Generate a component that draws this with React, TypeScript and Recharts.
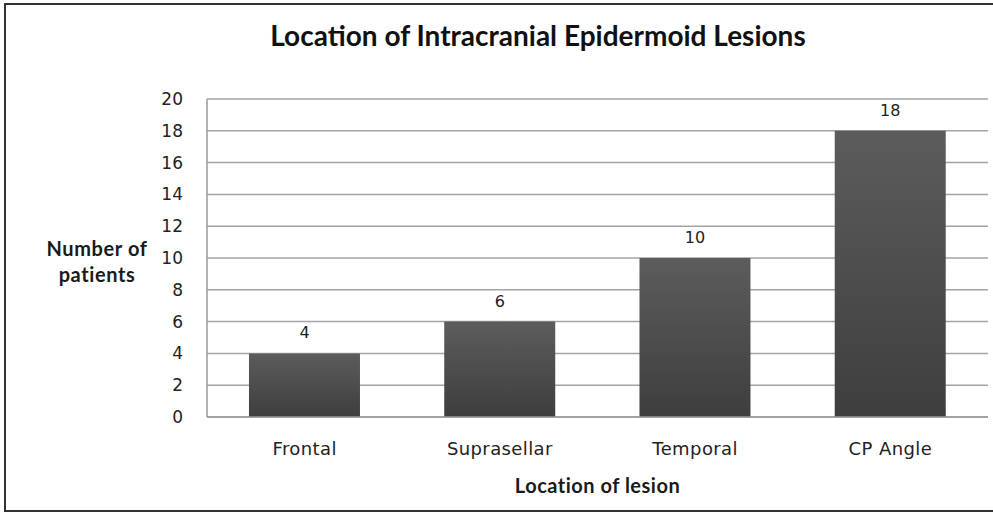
import React from "react";
import { BarChart, Bar, XAxis, YAxis, CartesianGrid, LabelList, Label } from "recharts";

const categories = ["Frontal", "Suprasellar", "Temporal", "CP Angle"];
const patients = [4, 6, 10, 18];
const yTicks = [0, 2, 4, 6, 8, 10, 12, 14, 16, 18, 20];

const data = categories.map((c, i) => ({ name: c, value: patients[i] }));

const tickFont = "'DejaVu Sans', Verdana, sans-serif";
const titleFont = "Lato, 'Open Sans', sans-serif";

const YTitle = (props: any) => {
  const vb = props.viewBox || {};
  const cx = 97;
  const cy = (vb.y ?? 0) + (vb.height ?? 0) / 2;
  return (
    <text
      x={cx}
      y={cy}
      textAnchor="middle"
      fontFamily={titleFont}
      fontWeight={700}
      fontSize={20}
      letterSpacing={0.6}
      fill="#1a1a1a"
    >
      <tspan x={cx} dy={-2}>Number of</tspan>
      <tspan x={cx} dy={26}>patients</tspan>
    </text>
  );
};

export default function App() {
  return (
    <div style={{ position: "absolute", left: 0, top: 0, width: 993, height: 512, background: "#fff", overflow: "hidden" }}>
      <div
        style={{
          position: "absolute",
          left: 4,
          top: 3,
          width: 1000,
          height: 509,
          border: "2px solid #333",
          boxSizing: "border-box",
        }}
      />
      <div
        style={{
          position: "absolute",
          left: 0,
          top: 18,
          width: 1076,
          textAlign: "center",
          fontFamily: titleFont,
          fontWeight: 700,
          fontSize: 28,
          lineHeight: "34px",
          color: "#111",
        }}
      >
        Location of Intracranial Epidermoid Lesions
      </div>
      <div style={{ position: "absolute", left: 0, top: 0 }}>
        <BarChart
          width={993}
          height={512}
          data={data}
          margin={{ top: 99, right: 5, bottom: 35, left: 147 }}
          barCategoryGap="21.5%"
        >
          <defs>
            <linearGradient id="barGrad" x1="0" y1="0" x2="0" y2="1">
              <stop offset="0%" stopColor="#5c5c5c" />
              <stop offset="100%" stopColor="#3e3e3e" />
            </linearGradient>
          </defs>
          <CartesianGrid vertical={false} stroke="#a3a3a3" strokeWidth={1.5} />
          <XAxis
            dataKey="name"
            height={60}
            tickLine={false}
            tickSize={0}
            tickMargin={25}
            axisLine={{ stroke: "#9a9a9a", strokeWidth: 1.5 }}
            tick={{ fontFamily: tickFont, fontSize: 18, letterSpacing: 0.4, fill: "#222" }}
          >
            <Label
              value="Location of lesion"
              position="insideBottom"
              offset={-16}
              style={{ fontFamily: titleFont, fontWeight: 700, fontSize: 20, letterSpacing: 0.5, fill: "#1a1a1a" }}
            />
          </XAxis>
          <YAxis
            width={60}
            domain={[0, 20]}
            ticks={yTicks}
            interval={0}
            tickLine={false}
            tickSize={0}
            tickMargin={24}
            axisLine={{ stroke: "#9a9a9a", strokeWidth: 1.5 }}
            tick={{ fontFamily: tickFont, fontSize: 17, fill: "#222" }}
          >
            <Label content={<YTitle />} />
          </YAxis>
          <Bar dataKey="value" fill="url(#barGrad)" isAnimationActive={false}>
            <LabelList
              dataKey="value"
              position="top"
              offset={15}
              style={{ fontFamily: tickFont, fontSize: 16, fill: "#222" }}
            />
          </Bar>
        </BarChart>
      </div>
    </div>
  );
}
